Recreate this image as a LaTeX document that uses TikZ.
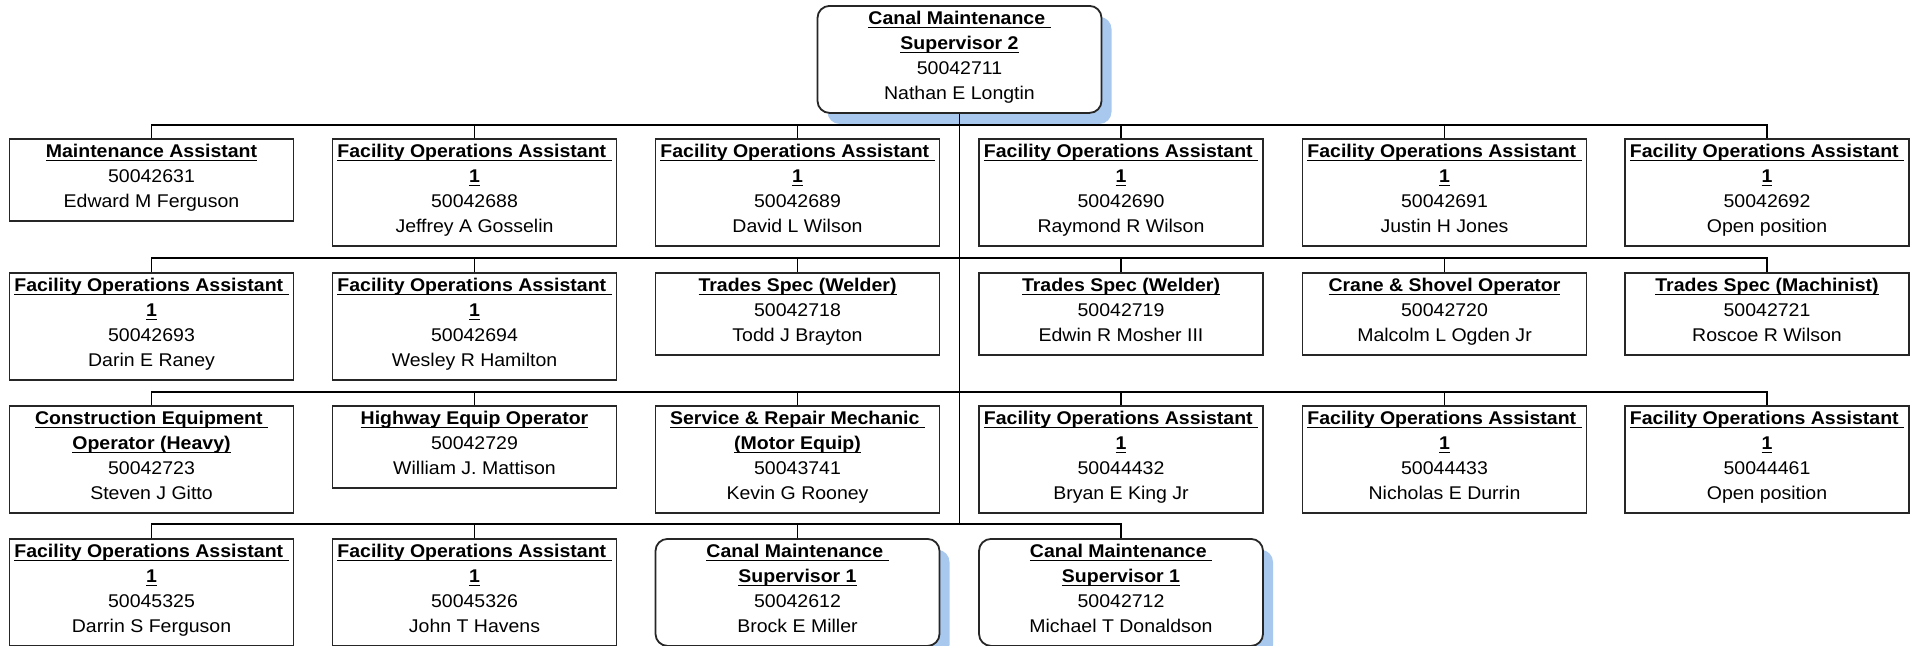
\documentclass[tikz,border=0pt]{standalone}
\usepackage{fontspec}
\setmainfont{Liberation Sans}[FakeStretch=1.06]
\usetikzlibrary{shadows}

\definecolor{shadowblue}{RGB}{168,200,238}

\newcommand{\hd}[1]{\setbox0=\hbox{\bfseries #1}\rlap{\rule[-1.8pt]{\wd0}{0.7pt}}\box0}
\newcommand{\tstrut}{\rule{0pt}{9.2pt}}
\newcommand{\bstrut}{\rule[-6.8pt]{0pt}{6.8pt}}

\tikzset{
	posbox/.style={rectangle, draw=black!85, line width=0.9pt, fill=white, minimum width=142pt,
		inner xsep=0pt, inner ysep=0pt, align=center, anchor=north,
		font=\fontsize{9.2}{12.5}\selectfont},
	leadbox/.style={posbox, rounded corners=6pt,
		drop shadow={shadow xshift=5pt, shadow yshift=-5.5pt, fill=shadowblue, opacity=1}},
	orgline/.style={line width=0.7pt}
}

\begin{document}
\begin{tikzpicture}[x=0.5pt, y=-0.5pt]
	\useasboundingbox (0,0) rectangle (1920,645);

	\node(top)[leadbox] at (959.5,5) {\tstrut\hd{Canal Maintenance\ }\\\hd{Supervisor 2}\\50042711\\Nathan E Longtin\bstrut};

	% first row
	\node(r1c1)[posbox] at (151.5,138) {\tstrut\hd{Maintenance Assistant}\\50042631\\Edward M Ferguson\bstrut};
	\node(r1c2)[posbox] at (474.5,138) {\tstrut\hd{Facility Operations Assistant\ }\\\hd{1}\\50042688\\Jeffrey A Gosselin\bstrut};
	\node(r1c3)[posbox] at (797.5,138) {\tstrut\hd{Facility Operations Assistant\ }\\\hd{1}\\50042689\\David L Wilson\bstrut};
	\node(r1c4)[posbox] at (1121,138) {\tstrut\hd{Facility Operations Assistant\ }\\\hd{1}\\50042690\\Raymond R Wilson\bstrut};
	\node(r1c5)[posbox] at (1444.5,138) {\tstrut\hd{Facility Operations Assistant\ }\\\hd{1}\\50042691\\Justin H Jones\bstrut};
	\node(r1c6)[posbox] at (1767,138) {\tstrut\hd{Facility Operations Assistant\ }\\\hd{1}\\50042692\\Open position\bstrut};

	% second row
	\node(r2c1)[posbox] at (151.5,272) {\tstrut\hd{Facility Operations Assistant\ }\\\hd{1}\\50042693\\Darin E Raney\bstrut};
	\node(r2c2)[posbox] at (474.5,272) {\tstrut\hd{Facility Operations Assistant\ }\\\hd{1}\\50042694\\Wesley R Hamilton\bstrut};
	\node(r2c3)[posbox] at (797.5,272) {\tstrut\hd{Trades Spec (Welder)}\\50042718\\Todd J Brayton\bstrut};
	\node(r2c4)[posbox] at (1121,272) {\tstrut\hd{Trades Spec (Welder)}\\50042719\\Edwin R Mosher III\bstrut};
	\node(r2c5)[posbox] at (1444.5,272) {\tstrut\hd{Crane \& Shovel Operator}\\50042720\\Malcolm L Ogden Jr\bstrut};
	\node(r2c6)[posbox] at (1767,272) {\tstrut\hd{Trades Spec (Machinist)}\\50042721\\Roscoe R Wilson\bstrut};

	% third row
	\node(r3c1)[posbox] at (151.5,405) {\tstrut\hd{Construction Equipment\ }\\\hd{Operator (Heavy)}\\50042723\\Steven J Gitto\bstrut};
	\node(r3c2)[posbox] at (474.5,405) {\tstrut\hd{Highway Equip Operator}\\50042729\\William J. Mattison\bstrut};
	\node(r3c3)[posbox] at (797.5,405) {\tstrut\hd{Service \& Repair Mechanic\ }\\\hd{(Motor Equip)}\\50043741\\Kevin G Rooney\bstrut};
	\node(r3c4)[posbox] at (1121,405) {\tstrut\hd{Facility Operations Assistant\ }\\\hd{1}\\50044432\\Bryan E King Jr\bstrut};
	\node(r3c5)[posbox] at (1444.5,405) {\tstrut\hd{Facility Operations Assistant\ }\\\hd{1}\\50044433\\Nicholas E Durrin\bstrut};
	\node(r3c6)[posbox] at (1767,405) {\tstrut\hd{Facility Operations Assistant\ }\\\hd{1}\\50044461\\Open position\bstrut};

	% fourth row
	\node(r4c1)[posbox] at (151.5,538) {\tstrut\hd{Facility Operations Assistant\ }\\\hd{1}\\50045325\\Darrin S Ferguson\bstrut};
	\node(r4c2)[posbox] at (474.5,538) {\tstrut\hd{Facility Operations Assistant\ }\\\hd{1}\\50045326\\John T Havens\bstrut};
	\node(r4c3)[leadbox] at (797.5,538) {\tstrut\hd{Canal Maintenance\ }\\\hd{Supervisor 1}\\50042612\\Brock E Miller\bstrut};
	\node(r4c4)[leadbox] at (1121,538) {\tstrut\hd{Canal Maintenance\ }\\\hd{Supervisor 1}\\50042712\\Michael T Donaldson\bstrut};

	\coordinate (bus1) at (959.5,125);
	\coordinate (bus2) at (959.5,258);
	\coordinate (bus3) at (959.5,392);
	\coordinate (bus4) at (959.5,524);

	\draw[orgline] (top.south) -- (bus4);

	\draw[orgline] (r1c1.north) |- (bus1) -| (r1c6.north);
	\draw[orgline] (r1c2.north) -- (r1c2.north |- bus1) (r1c3.north) -- (r1c3.north |- bus1)
		(r1c4.north) -- (r1c4.north |- bus1) (r1c5.north) -- (r1c5.north |- bus1);

	\draw[orgline] (r2c1.north) |- (bus2) -| (r2c6.north);
	\draw[orgline] (r2c2.north) -- (r2c2.north |- bus2) (r2c3.north) -- (r2c3.north |- bus2)
		(r2c4.north) -- (r2c4.north |- bus2) (r2c5.north) -- (r2c5.north |- bus2);

	\draw[orgline] (r3c1.north) |- (bus3) -| (r3c6.north);
	\draw[orgline] (r3c2.north) -- (r3c2.north |- bus3) (r3c3.north) -- (r3c3.north |- bus3)
		(r3c4.north) -- (r3c4.north |- bus3) (r3c5.north) -- (r3c5.north |- bus3);

	\draw[orgline] (r4c1.north) |- (bus4) -| (r4c4.north);
	\draw[orgline] (r4c2.north) -- (r4c2.north |- bus4) (r4c3.north) -- (r4c3.north |- bus4);
\end{tikzpicture}
\end{document}
